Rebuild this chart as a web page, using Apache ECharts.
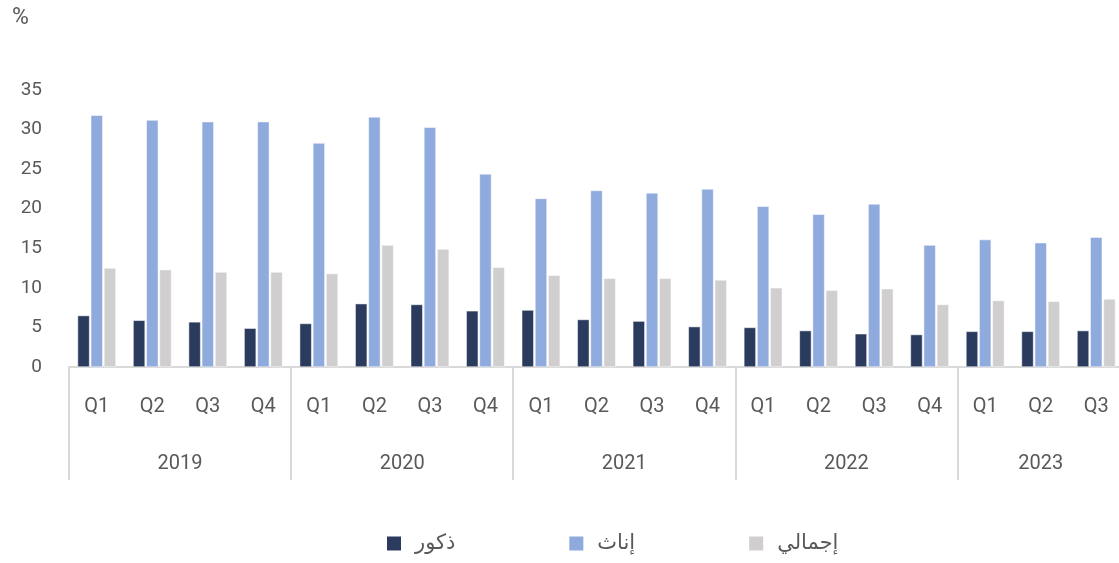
<!DOCTYPE html>
<html>
<head>
<meta charset="utf-8">
<script src="https://cdn.jsdelivr.net/npm/echarts@6/dist/echarts.min.js"></script>
<style>
  html, body { margin: 0; padding: 0; background: #fff; }
  #chart { width: 1119px; height: 563px; }
</style>
</head>
<body>
<div id="chart"></div>
<script>
const quarters = ['Q1', 'Q2', 'Q3', 'Q4', 'Q1', 'Q2', 'Q3', 'Q4', 'Q1', 'Q2', 'Q3', 'Q4',
  'Q1', 'Q2', 'Q3', 'Q4', 'Q1', 'Q2', 'Q3'];
const years = ['2019', '2020', '2021', '2022', '2023'];
const yearMids = [2, 6, 10, 14, 17.5];

const males = [6.5, 5.9, 5.7, 4.9, 5.5, 8.0, 7.9, 7.1, 7.2, 6.0, 5.8, 5.1, 5.0, 4.6, 4.2, 4.1, 4.5, 4.5, 4.6];
const females = [31.8, 31.2, 31.0, 31.0, 28.3, 31.6, 30.3, 24.4, 21.3, 22.3, 22.0, 22.5, 20.3, 19.3, 20.6, 15.4, 16.1, 15.7, 16.4];
const total = [12.5, 12.3, 12.0, 12.0, 11.8, 15.4, 14.9, 12.6, 11.6, 11.2, 11.2, 11.0, 10.0, 9.7, 9.9, 7.9, 8.4, 8.3, 8.6];

const font = 'Roboto, "DejaVu Sans", sans-serif';
const txt = '#595959';
const line = '#d9d9d9';

const chart = echarts.init(document.getElementById('chart'));

const barStyle = (color) => ({
  type: 'bar',
  barWidth: 12,
  itemStyle: { color, borderColor: '#fff', borderWidth: 0.5 },
});

chart.setOption({
  animation: false,
  textStyle: { fontFamily: font },
  title: {
    text: '%',
    left: 7,
    top: 2,
    textStyle: { fontSize: 23, fontWeight: 'normal', color: txt, fontFamily: font },
  },
  grid: { left: 69, top: 90, right: -5, bottom: 196, outerBoundsMode: 'none', containLabel: false },
  legend: {
    bottom: 4,
    left: 380,
    itemWidth: 16,
    itemHeight: 16,
    itemGap: 112,
    icon: 'rect',
    textStyle: { fontSize: 21, color: txt, fontFamily: font, padding: [0, 0, 0, 8] },
    data: ['ذكور', 'إناث', 'إجمالي'],
  },
  xAxis: [
    {
      type: 'category',
      data: quarters,
      axisLine: { lineStyle: { color: line, width: 2 } },
      axisTick: {
        show: true,
        interval: (i) => i % 4 === 0,
        length: 113,
        lineStyle: { color: line, width: 2 },
      },
      axisLabel: { margin: 30, fontSize: 20, color: txt, fontFamily: font },
    },
    {
      type: 'value',
      position: 'bottom',
      min: 0,
      max: 19,
      axisLine: { show: false },
      axisTick: { show: false },
      splitLine: { show: false },
      axisLabel: {
        customValues: yearMids,
        margin: 87,
        fontSize: 20,
        color: txt,
        fontFamily: font,
        formatter: (v) => years[yearMids.indexOf(v)],
      },
    },
  ],
  yAxis: {
    type: 'value',
    min: 0,
    max: 35,
    interval: 5,
    axisLine: { show: false },
    axisTick: { show: false },
    splitLine: { show: false },
    axisLabel: { margin: 27, fontSize: 19, color: txt, fontFamily: font },
  },
  series: [
    { name: 'ذكور', data: males, ...barStyle('#2b3b5d') },
    { name: 'إناث', data: females, ...barStyle('#8faadc') },
    { name: 'إجمالي', data: total, ...barStyle('#d0cece') },
  ],
});
</script>
</body>
</html>
